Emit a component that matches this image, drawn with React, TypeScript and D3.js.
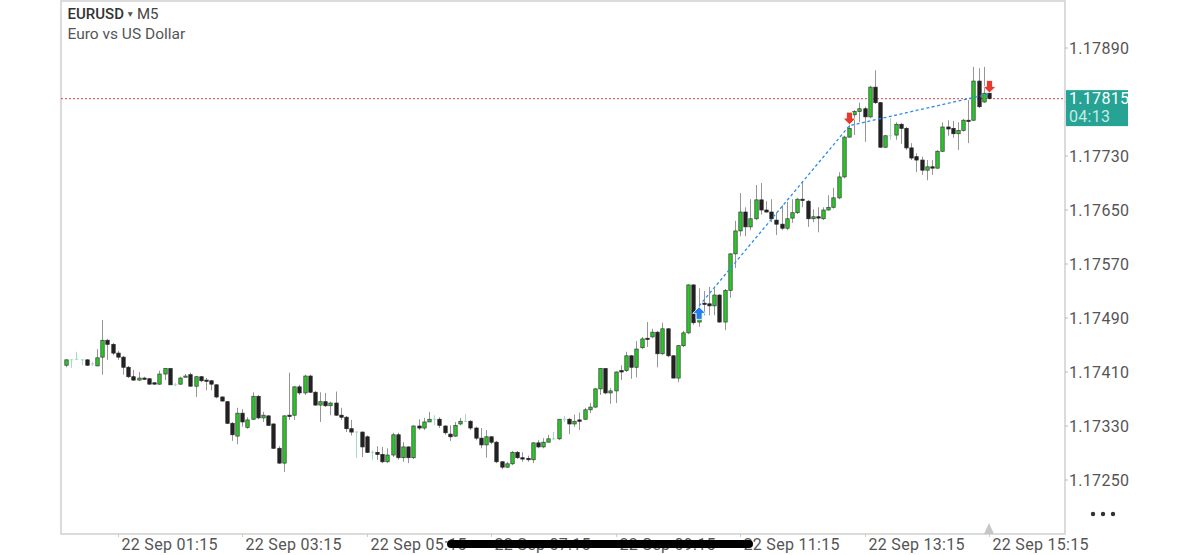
import * as React from "react";
import * as d3 from "d3";

const symbolName: string = "EURUSD";
const timeframe: string = "M5";
const symbolDescription: string = "Euro vs US Dollar";

// M5 candles, first one at 00:25
const firstCandle: Date = new Date(2025, 8, 22, 0, 25);
const candleMinutes: number = 5;

const opens: number[] = [
  1.17420, 1.17428, 1.17429, 1.17428, 1.17428, 1.17422, 1.17419, 1.17432, 1.17457, 1.17451,
  1.17438, 1.17432, 1.17417, 1.17403, 1.17398, 1.17401, 1.17400, 1.17394, 1.17392, 1.17407,
  1.17415, 1.17391, 1.17392, 1.17403, 1.17406, 1.17389, 1.17403, 1.17398, 1.17397, 1.17391,
  1.17373, 1.17366, 1.17334, 1.17315, 1.17349, 1.17328, 1.17340, 1.17374, 1.17342, 1.17345,
  1.17333, 1.17297, 1.17275, 1.17346, 1.17346, 1.17388, 1.17379, 1.17404, 1.17380, 1.17361,
  1.17366, 1.17360, 1.17364, 1.17346, 1.17343, 1.17326, 1.17321, 1.17321, 1.17314, 1.17291,
  1.17291, 1.17288, 1.17277, 1.17287, 1.17317, 1.17283, 1.17299, 1.17283, 1.17330, 1.17327,
  1.17336, 1.17340, 1.17340, 1.17330, 1.17318, 1.17315, 1.17333, 1.17337, 1.17337, 1.17327,
  1.17312, 1.17302, 1.17314, 1.17306, 1.17277, 1.17269, 1.17274, 1.17291, 1.17283, 1.17282,
  1.17280, 1.17305, 1.17299, 1.17306, 1.17311, 1.17311, 1.17340, 1.17340, 1.17333, 1.17339,
  1.17340, 1.17354, 1.17358, 1.17385, 1.17415, 1.17379, 1.17382, 1.17412, 1.17412, 1.17434,
  1.17417, 1.17446, 1.17460, 1.17462, 1.17469, 1.17437, 1.17474, 1.17434, 1.17401, 1.17449,
  1.17468, 1.17539, 1.17484, 1.17512, 1.17511, 1.17508, 1.17524, 1.17484, 1.17531, 1.17585,
  1.17619, 1.17647, 1.17625, 1.17637, 1.17665, 1.17650, 1.17647, 1.17635, 1.17629, 1.17623,
  1.17638, 1.17646, 1.17666, 1.17663, 1.17637, 1.17640, 1.17637, 1.17650, 1.17654, 1.17668,
  1.17699, 1.17758, 1.17791, 1.17796, 1.17800, 1.17788, 1.17832, 1.17809, 1.17743, 1.17760,
  1.17761, 1.17777, 1.17771, 1.17742, 1.17729, 1.17724, 1.17709, 1.17714, 1.17712, 1.17737,
  1.17773, 1.17771, 1.17763, 1.17768, 1.17783, 1.17783, 1.17841, 1.17810, 1.17823
];

const highs: number[] = [
  1.17429, 1.17429, 1.17440, 1.17429, 1.17429, 1.17425, 1.17444, 1.17487, 1.17459, 1.17453,
  1.17441, 1.17434, 1.17419, 1.17413, 1.17410, 1.17403, 1.17401, 1.17395, 1.17412, 1.17416,
  1.17415, 1.17394, 1.17403, 1.17407, 1.17409, 1.17404, 1.17404, 1.17401, 1.17398, 1.17392,
  1.17374, 1.17367, 1.17336, 1.17357, 1.17355, 1.17343, 1.17380, 1.17376, 1.17351, 1.17346,
  1.17334, 1.17300, 1.17346, 1.17409, 1.17389, 1.17391, 1.17406, 1.17406, 1.17382, 1.17380,
  1.17379, 1.17366, 1.17381, 1.17357, 1.17345, 1.17339, 1.17322, 1.17322, 1.17316, 1.17294,
  1.17300, 1.17299, 1.17297, 1.17320, 1.17320, 1.17306, 1.17300, 1.17331, 1.17340, 1.17342,
  1.17351, 1.17346, 1.17343, 1.17331, 1.17331, 1.17336, 1.17342, 1.17348, 1.17339, 1.17329,
  1.17327, 1.17324, 1.17315, 1.17308, 1.17278, 1.17277, 1.17293, 1.17293, 1.17291, 1.17286,
  1.17306, 1.17309, 1.17312, 1.17317, 1.17321, 1.17340, 1.17345, 1.17342, 1.17347, 1.17350,
  1.17357, 1.17364, 1.17386, 1.17416, 1.17416, 1.17386, 1.17411, 1.17420, 1.17440, 1.17435,
  1.17456, 1.17462, 1.17484, 1.17474, 1.17471, 1.17483, 1.17475, 1.17435, 1.17450, 1.17471,
  1.17540, 1.17540, 1.17534, 1.17530, 1.17536, 1.17534, 1.17525, 1.17533, 1.17586, 1.17634,
  1.17675, 1.17654, 1.17666, 1.17687, 1.17690, 1.17663, 1.17666, 1.17646, 1.17657, 1.17662,
  1.17666, 1.17668, 1.17693, 1.17665, 1.17651, 1.17654, 1.17654, 1.17672, 1.17683, 1.17706,
  1.17760, 1.17776, 1.17798, 1.17809, 1.17803, 1.17834, 1.17857, 1.17810, 1.17761, 1.17786,
  1.17780, 1.17779, 1.17773, 1.17749, 1.17734, 1.17729, 1.17724, 1.17724, 1.17739, 1.17780,
  1.17783, 1.17782, 1.17780, 1.17785, 1.17813, 1.17862, 1.17860, 1.17862, 1.17826
];

const lows: number[] = [
  1.17417, 1.17416, 1.17428, 1.17420, 1.17419, 1.17419, 1.17419, 1.17406, 1.17428, 1.17435,
  1.17428, 1.17406, 1.17401, 1.17397, 1.17397, 1.17398, 1.17391, 1.17391, 1.17391, 1.17398,
  1.17391, 1.17389, 1.17391, 1.17403, 1.17388, 1.17373, 1.17395, 1.17383, 1.17383, 1.17371,
  1.17366, 1.17333, 1.17308, 1.17303, 1.17329, 1.17326, 1.17339, 1.17340, 1.17336, 1.17330,
  1.17296, 1.17274, 1.17262, 1.17339, 1.17339, 1.17376, 1.17376, 1.17379, 1.17360, 1.17336,
  1.17358, 1.17346, 1.17345, 1.17339, 1.17321, 1.17316, 1.17283, 1.17284, 1.17290, 1.17280,
  1.17280, 1.17275, 1.17275, 1.17284, 1.17280, 1.17277, 1.17275, 1.17281, 1.17324, 1.17324,
  1.17336, 1.17331, 1.17327, 1.17317, 1.17308, 1.17314, 1.17331, 1.17336, 1.17324, 1.17309,
  1.17297, 1.17283, 1.17303, 1.17275, 1.17266, 1.17268, 1.17272, 1.17281, 1.17277, 1.17277,
  1.17275, 1.17297, 1.17297, 1.17306, 1.17309, 1.17309, 1.17336, 1.17318, 1.17329, 1.17324,
  1.17339, 1.17349, 1.17357, 1.17376, 1.17377, 1.17363, 1.17364, 1.17398, 1.17410, 1.17400,
  1.17402, 1.17444, 1.17447, 1.17460, 1.17417, 1.17435, 1.17432, 1.17401, 1.17395, 1.17447,
  1.17466, 1.17480, 1.17477, 1.17494, 1.17494, 1.17494, 1.17483, 1.17472, 1.17520, 1.17564,
  1.17611, 1.17611, 1.17620, 1.17635, 1.17643, 1.17646, 1.17632, 1.17613, 1.17620, 1.17620,
  1.17631, 1.17644, 1.17654, 1.17625, 1.17632, 1.17617, 1.17635, 1.17649, 1.17652, 1.17666,
  1.17697, 1.17757, 1.17761, 1.17780, 1.17751, 1.17786, 1.17807, 1.17742, 1.17742, 1.17754,
  1.17754, 1.17748, 1.17739, 1.17724, 1.17706, 1.17702, 1.17694, 1.17702, 1.17711, 1.17736,
  1.17760, 1.17757, 1.17739, 1.17766, 1.17749, 1.17782, 1.17801, 1.17809, 1.17814
];

const closes: number[] = [
  1.17428, 1.17428, 1.17429, 1.17428, 1.17420, 1.17422, 1.17431, 1.17457, 1.17451, 1.17438,
  1.17432, 1.17417, 1.17403, 1.17398, 1.17401, 1.17400, 1.17392, 1.17392, 1.17407, 1.17415,
  1.17391, 1.17391, 1.17401, 1.17404, 1.17389, 1.17403, 1.17397, 1.17397, 1.17392, 1.17373,
  1.17367, 1.17334, 1.17317, 1.17349, 1.17336, 1.17339, 1.17374, 1.17342, 1.17346, 1.17331,
  1.17297, 1.17275, 1.17345, 1.17345, 1.17388, 1.17379, 1.17404, 1.17380, 1.17361, 1.17366,
  1.17360, 1.17364, 1.17346, 1.17343, 1.17326, 1.17321, 1.17321, 1.17299, 1.17291, 1.17291,
  1.17288, 1.17277, 1.17287, 1.17317, 1.17283, 1.17299, 1.17283, 1.17330, 1.17327, 1.17336,
  1.17340, 1.17340, 1.17331, 1.17320, 1.17314, 1.17331, 1.17337, 1.17337, 1.17327, 1.17312,
  1.17302, 1.17314, 1.17306, 1.17277, 1.17269, 1.17274, 1.17291, 1.17283, 1.17281, 1.17280,
  1.17305, 1.17299, 1.17306, 1.17311, 1.17311, 1.17340, 1.17340, 1.17333, 1.17337, 1.17337,
  1.17354, 1.17358, 1.17385, 1.17415, 1.17379, 1.17382, 1.17410, 1.17410, 1.17434, 1.17417,
  1.17444, 1.17459, 1.17459, 1.17469, 1.17437, 1.17474, 1.17434, 1.17401, 1.17449, 1.17468,
  1.17539, 1.17483, 1.17489, 1.17511, 1.17508, 1.17524, 1.17484, 1.17531, 1.17585, 1.17619,
  1.17647, 1.17625, 1.17637, 1.17665, 1.17650, 1.17647, 1.17637, 1.17629, 1.17623, 1.17637,
  1.17646, 1.17666, 1.17665, 1.17637, 1.17640, 1.17638, 1.17650, 1.17654, 1.17668, 1.17699,
  1.17758, 1.17771, 1.17796, 1.17800, 1.17788, 1.17832, 1.17809, 1.17743, 1.17760, 1.17760,
  1.17777, 1.17771, 1.17742, 1.17727, 1.17724, 1.17709, 1.17714, 1.17712, 1.17737, 1.17773,
  1.17770, 1.17763, 1.17768, 1.17783, 1.17782, 1.17841, 1.17803, 1.17823, 1.17815
];

const priceTicks: number[] = [1.17250, 1.17330, 1.17410, 1.17490, 1.17570, 1.17650, 1.17730, 1.17810, 1.17890];
const timeTicks: string[] = ["01:15", "03:15", "05:15", "07:15", "09:15", "11:15", "13:15", "15:15"];

// trade deals drawn on the chart
const dealIndex: number[] = [122, 151, 178];
const dealPrice: number[] = [1.17508, 1.17775, 1.17822];
const dealSide: string[] = ["buy", "sell", "sell"];

const lastPrice: number = 1.17815;
const barCountdown: string = "04:13";

const FONT: string = "Roboto, 'Noto Sans', 'Liberation Sans', sans-serif";

type Frame = {
  left: number;
  right: number;
  top: number;
  bottom: number;
};

export default class App extends React.PureComponent {
  private svgRef: React.RefObject<SVGSVGElement> = React.createRef<SVGSVGElement>();
  private frame: Frame = { left: 61, right: 1065, top: 1, bottom: 534 };

  public componentDidMount(): void {
    this.drawChart();
  }

  public render(): JSX.Element {
    return <svg ref={this.svgRef} width={1200} height={555}
                style={{ position: "absolute", left: 0, top: 0, background: "#fff" }}/>;
  }

  private drawChart(): void {
    const svg = d3.select(this.svgRef.current);
    svg.selectAll("*").remove();
    const f: Frame = this.frame;

    const times: Date[] = opens.map((_: number, i: number) => d3.timeMinute.offset(firstCandle, i * candleMinutes));
    const x = d3.scaleTime().domain([times[0], times[times.length - 1]]).range([66, 989]);
    const y = d3.scaleLinear().domain([1.17250, 1.17890]).range([480, 48]);
    const parseTick = (s: string): Date => {
      const [hh, mm] = s.split(":").map(Number);
      return new Date(2025, 8, 22, hh, mm);
    };
    const fmt = d3.timeFormat("%d %b %H:%M");

    // frame
    svg.append("rect")
      .attr("x", f.left).attr("y", f.top)
      .attr("width", f.right - f.left).attr("height", f.bottom - f.top)
      .attr("fill", "none").attr("stroke", "#d3d3d3").attr("stroke-width", 1.6);

    // header
    const header = svg.append("g").attr("font-family", FONT);
    header.append("text").attr("x", 67.5).attr("y", 18.5)
      .attr("font-size", 15).attr("font-weight", 500).attr("fill", "#333").text(symbolName);
    header.append("text").attr("x", 126).attr("y", 17)
      .attr("font-size", 8.5).attr("fill", "#555").text("\u25BC");
    header.append("text").attr("x", 137).attr("y", 18.5)
      .attr("font-size", 15).attr("fill", "#444").text(timeframe);
    header.append("text").attr("x", 67.5).attr("y", 38.5)
      .attr("font-size", 15.5).attr("fill", "#555").text(symbolDescription);

    // current price line
    svg.append("line")
      .attr("x1", f.left).attr("x2", f.right)
      .attr("y1", y(lastPrice)).attr("y2", y(lastPrice))
      .attr("stroke", "#e06a6a").attr("stroke-width", 1.2).attr("stroke-dasharray", "2,2");

    // candles
    const candles = svg.append("g");
    const bodyW: number = 3.4;
    opens.forEach((o: number, i: number) => {
      const c: number = closes[i];
      const cx: number = Math.round(x(times[i])) + 0.5;
      const doji: boolean = Math.abs(o - c) < 1e-7;
      const bull: boolean = c > o;
      candles.append("line")
        .attr("x1", cx).attr("x2", cx)
        .attr("y1", y(highs[i])).attr("y2", y(lows[i]))
        .attr("stroke", doji ? "#a4dcc4" : "#969696").attr("stroke-width", 1);
      if (doji) {
        candles.append("line")
          .attr("x1", cx - bodyW / 2).attr("x2", cx + bodyW / 2)
          .attr("y1", y(o)).attr("y2", y(o))
          .attr("stroke", "#a4dcc4").attr("stroke-width", 1);
        return;
      }
      const top: number = y(Math.max(o, c));
      const h: number = Math.max(1.2, Math.abs(y(o) - y(c)));
      candles.append("rect")
        .attr("x", cx - bodyW / 2).attr("y", top)
        .attr("width", bodyW).attr("height", h)
        .attr("fill", bull ? "#27c927" : "#222")
        .attr("stroke", bull ? "#3a3a3a" : "#222").attr("stroke-width", 0.7);
    });

    // trade lines
    const dealPts: [number, number][] = dealIndex.map((d: number, i: number) => [x(times[d]) + 0.5, y(dealPrice[i])]);
    svg.append("path")
      .attr("d", d3.line()(dealPts))
      .attr("fill", "none").attr("stroke", "#2a8cf0").attr("stroke-width", 1.3)
      .attr("stroke-dasharray", "3,2.5");

    // deal arrows: buy points up from below the price, sell points down from above
    dealPts.forEach((p: [number, number], i: number) => {
      const buy: boolean = dealSide[i] === "buy";
      const s: number = buy ? 1 : -1;
      const path: string = `M0,0 L-6.5,${6.5 * s} L-3,${6.5 * s} L-3,${12.5 * s} L3,${12.5 * s} L3,${6.5 * s} L6.5,${6.5 * s} Z`;
      svg.append("path")
        .attr("transform", `translate(${p[0]},${p[1] + (buy ? 1 : -1)})`)
        .attr("d", path)
        .attr("fill", buy ? "#1f7ff0" : "#e53a2f")
        .attr("stroke", "#fff").attr("stroke-width", 0.8).attr("stroke-linejoin", "round");
    });

    // price axis (the label under the current price box is hidden)
    const ly: number = y(lastPrice);
    const yAxis = svg.append("g").attr("font-family", FONT);
    priceTicks.forEach((p: number) => {
      yAxis.append("line")
        .attr("x1", f.right).attr("x2", f.right + 3)
        .attr("y1", y(p)).attr("y2", y(p))
        .attr("stroke", "#bbb");
      if (Math.abs(y(p) - ly) < 20) return;
      yAxis.append("text")
        .attr("x", 1069).attr("y", y(p)).attr("dy", "0.36em")
        .attr("font-size", 16).attr("fill", "#555").attr("letter-spacing", 0.3)
        .text(p.toFixed(5));
    });

    // current price label
    svg.append("rect")
      .attr("x", 1066).attr("y", ly - 8.5).attr("width", 62).attr("height", 36)
      .attr("fill", "#26a394");
    svg.append("text")
      .attr("x", 1069).attr("y", ly).attr("dy", "0.36em")
      .attr("font-family", FONT).attr("font-size", 16).attr("fill", "#fff").attr("letter-spacing", 0.3)
      .text(lastPrice.toFixed(5));
    svg.append("text")
      .attr("x", 1069).attr("y", ly + 18).attr("dy", "0.36em")
      .attr("font-family", FONT).attr("font-size", 16).attr("fill", "#c4ebe5").attr("letter-spacing", 0.3)
      .text(barCountdown);

    // time axis
    const xAxis = svg.append("g").attr("font-family", FONT);
    timeTicks.forEach((t: string) => {
      const tx: number = Math.round(x(parseTick(t))) + 0.5;
      xAxis.append("line")
        .attr("x1", tx).attr("x2", tx)
        .attr("y1", f.bottom).attr("y2", f.bottom + 3)
        .attr("stroke", "#ccc");
      xAxis.append("text")
        .attr("x", tx + 3).attr("y", 550)
        .attr("font-size", 16).attr("fill", "#555").attr("letter-spacing", 0.3)
        .text(fmt(parseTick(t)));
    });

    // last bar marker on the time axis
    const lx: number = x(times[times.length - 1]);
    svg.append("path")
      .attr("d", `M${lx},${f.bottom - 11} L${lx - 5},${f.bottom} L${lx + 5},${f.bottom} Z`)
      .attr("fill", "#c6c6c6");

    // menu dots
    [1093, 1103, 1113].forEach((cx: number) => {
      svg.append("circle").attr("cx", cx).attr("cy", 514).attr("r", 2.2).attr("fill", "#333");
    });

    // home indicator bar from the device screenshot
    svg.append("rect")
      .attr("x", 447).attr("y", 540).attr("width", 306).attr("height", 8).attr("rx", 4)
      .attr("fill", "#000");
  }
}
